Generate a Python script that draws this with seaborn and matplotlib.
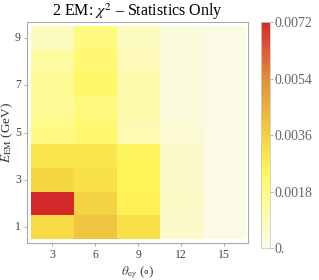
import numpy as np
import pandas as pd
import matplotlib
matplotlib.use('Agg')
import matplotlib.pyplot as plt
import seaborn as sns
from matplotlib.colors import LinearSegmentedColormap

# Bin centres
theta_bins = [3, 6, 9, 12, 15]          # degrees
energy_bins = [1, 2, 3, 4, 5, 6, 7, 8, 9]  # GeV

# chi^2 values per column (theta bin), listed from E = 1 to E = 9
chi_theta3 = [0.0033, 0.0072, 0.0034, 0.0030, 0.0018, 0.0015, 0.0015, 0.0013, 0.0008]
chi_theta6 = [0.0039, 0.0035, 0.0031, 0.0029, 0.0021, 0.0019, 0.0022, 0.0021, 0.0019]
chi_theta9 = [0.0031, 0.0026, 0.0025, 0.0024, 0.0010, 0.0011, 0.0011, 0.0009, 0.0008]
chi_theta12 = [0.0006, 0.0007, 0.0006, 0.0006, 0.0004, 0.0003, 0.0003, 0.0003, 0.0003]
chi_theta15 = [0.0001, 0.0001, 0.0001, 0.0001, 0.0001, 0.0001, 0.0001, 0.0001, 0.0001]

cbar_ticks = [0.0, 0.0018, 0.0036, 0.0054, 0.0072]
cbar_labels = ['0.', '0.0018', '0.0036', '0.0054', '0.0072']

df = pd.DataFrame({3: chi_theta3, 6: chi_theta6, 9: chi_theta9,
                   12: chi_theta12, 15: chi_theta15}, index=energy_bins)
df = df.sort_index(ascending=False)  # highest energy on top

cmap = LinearSegmentedColormap.from_list('yelred', [
    (0.00, '#fafaea'),
    (0.25, '#fffa84'),
    (0.35, '#fff455'),
    (0.50, '#f2d040'),
    (0.75, '#e08e3a'),
    (1.00, '#d42a2c'),
])

plt.rcParams['font.family'] = ['Liberation Serif', 'DejaVu Serif']
plt.rcParams['mathtext.fontset'] = 'stix'

fig = plt.figure(figsize=(3.19, 2.80), dpi=100)
ax = fig.add_axes([0.085, 0.132, 0.692, 0.789])
cax = fig.add_axes([0.817, 0.114, 0.029, 0.807])

sns.heatmap(df, ax=ax, cbar_ax=cax, cmap=cmap, vmin=0, vmax=0.0072,
            linewidths=0, square=False)

ax.set_xlim(-0.09, 5.05)
ax.set_ylim(9.17, -0.17)

ax.set_xticks([i + 0.5 for i in range(len(theta_bins))])
ax.set_xticklabels([str(t) for t in theta_bins], rotation=0)
ytick_vals = [1, 3, 5, 7, 9]
ax.set_yticks([list(df.index).index(v) + 0.5 for v in ytick_vals])
ax.set_yticklabels([str(v) for v in ytick_vals], rotation=0)

for s in ax.spines.values():
    s.set_visible(True)
    s.set_color('#aaaaaa')
    s.set_linewidth(0.8)
ax.tick_params(axis='both', labelsize=8.5, colors='#444444', length=2.5,
               width=0.6, direction='out', pad=2)
ax.tick_params(axis='both', color='#999999')

ax.set_xlabel(r'$\theta_{\mathrm{e}\gamma}$ ($\circ$)', fontsize=9.5, color='#444444', labelpad=2)
ax.set_ylabel(r'$E_{\mathrm{EM}}$ (GeV)', fontsize=9.5, color='#333333', labelpad=0)
ax.yaxis.set_label_coords(-0.055, 0.5)
ax.set_title(r'2 EM: $\chi^2$ – Statistics Only', fontsize=11.5, pad=0.5)

cb = ax.collections[0].colorbar
cb.set_ticks(cbar_ticks)
cb.set_ticklabels(cbar_labels)
cb.outline.set_edgecolor('#cccccc')
cb.outline.set_linewidth(0.6)
cax.tick_params(labelsize=10, colors='#666666', length=2.5, width=0.6, pad=1)
cax.tick_params(color='#aaaaaa')

fig.savefig('out.png', dpi=100)
